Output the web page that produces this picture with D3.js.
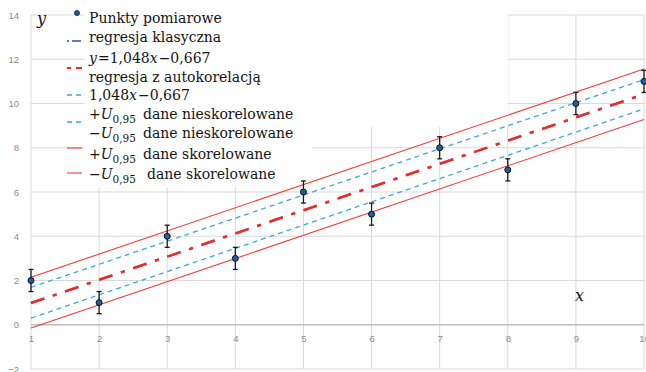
<!DOCTYPE html>
<html>
<head>
<meta charset="utf-8">
<script src="https://cdn.jsdelivr.net/npm/d3@7"></script>
<style>
	body { margin: 0; background: #fff; }
	svg { display: block; }
</style>
</head>
<body>
<svg id="myChart" width="646" height="372"></svg>
<script>
// measured points
const xValues = [1, 2, 3, 4, 5, 6, 7, 8, 9, 10];
const yValues = [2, 1, 4, 3, 6, 5, 8, 7, 10, 11];
const yErrors = [0.5, 0.5, 0.5, 0.5, 0.5, 0.5, 0.5, 0.5, 0.5, 0.5];

// straight lines, values read at x = 1 and x = 10
const lineEnds = [1, 10];
const regClassic = [0.98, 10.42];
const regAuto = [0.98, 10.42];
const uncorrUpper = [1.69, 11.08];
const uncorrLower = [0.30, 9.76];
const corrUpper = [2.15, 11.56];
const corrLower = [-0.15, 9.28];

// ticks
const xTicks = [1, 2, 3, 4, 5, 6, 7, 8, 9, 10];
const yTicks = [-2, 0, 2, 4, 6, 8, 10, 12, 14];

const svg = d3.select('#myChart');
const x = d3.scaleLinear().domain([1, 10]).range([31, 644]);
const y = d3.scaleLinear().domain([-2, 14]).range([369, 15]);

function pairs(ys) {
	return lineEnds.map(function (v, i) { return [v, ys[i]]; });
}

function plotGrid() {
	let grid = svg.append('g');
	grid.selectAll('.hgrid')
		.data(yTicks)
		.enter().append('line')
		.attr('x1', x(1)).attr('x2', x(10))
		.attr('y1', d => y(d)).attr('y2', d => y(d))
		.attr('stroke', '#d9d9d9')
		.attr('stroke-width', 1);
	grid.selectAll('.vgrid')
		.data(xTicks)
		.enter().append('line')
		.attr('x1', d => x(d)).attr('x2', d => x(d))
		.attr('y1', y(14)).attr('y2', y(-2))
		.attr('stroke', '#d9d9d9')
		.attr('stroke-width', 1);

	// axis through y = 0
	svg.append('line')
		.attr('x1', x(1)).attr('x2', x(10))
		.attr('y1', y(0)).attr('y2', y(0))
		.attr('stroke', '#bfbfbf')
		.attr('stroke-width', 1.5);

	let yAxis = svg.append('g')
		.attr('transform', 'translate(' + (x(1) - 9) + ',0)')
		.call(d3.axisLeft(y).tickValues(yTicks).tickSize(0).tickFormat(d3.format('d')));
	yAxis.select('.domain').remove();
	yAxis.selectAll('text')
		.attr('fill', '#8c8c8c')
		.style('font-family', 'Liberation Sans, sans-serif')
		.style('font-size', '9.5px');

	let xAxis = svg.append('g')
		.attr('transform', 'translate(0,' + (y(0) + 8) + ')')
		.call(d3.axisBottom(x).tickValues(xTicks).tickSize(0).tickFormat(d3.format('d')));
	xAxis.select('.domain').remove();
	xAxis.selectAll('text')
		.attr('fill', '#8c8c8c')
		.style('font-family', 'Liberation Sans, sans-serif')
		.style('font-size', '9.5px');
}

function plotLegendBoxes() {
	// white text boxes of the legend hide the grid behind them
	svg.append('rect').attr('x', 84).attr('y', 14).attr('width', 424).attr('height', 113).attr('fill', '#fff');
	svg.append('rect').attr('x', 84).attr('y', 14).attr('width', 228).attr('height', 173).attr('fill', '#fff');
}

function plotLines() {
	let line = d3.line().x(d => x(d[0])).y(d => y(d[1]));

	let series = [
		{ data: regClassic, color: '#2f5597', width: 2, dash: '14,9,4,9' },
		{ data: regAuto, color: '#ee2b2b', width: 2.6, dash: '14,9,4,9' },
		{ data: uncorrUpper, color: '#3ba6e0', width: 1.3, dash: '5,4' },
		{ data: uncorrLower, color: '#3ba6e0', width: 1.3, dash: '5,4' },
		{ data: corrUpper, color: '#f23b3b', width: 1.1, dash: null },
		{ data: corrLower, color: '#f23b3b', width: 1.1, dash: null }
	];

	svg.selectAll('.fit')
		.data(series)
		.enter().append('path')
		.attr('class', 'fit')
		.attr('d', d => line(pairs(d.data)))
		.attr('fill', 'none')
		.attr('stroke', d => d.color)
		.attr('stroke-width', d => d.width)
		.attr('stroke-dasharray', d => d.dash);
}

function plotPoints() {
	let pts = xValues.map(function (v, i) { return { x: v, y: yValues[i], e: yErrors[i] }; });

	let bars = svg.selectAll('.err')
		.data(pts)
		.enter().append('g')
		.attr('class', 'err')
		.attr('stroke', '#1a1a1a')
		.attr('stroke-width', 1.3);
	bars.append('line')
		.attr('x1', d => x(d.x)).attr('x2', d => x(d.x))
		.attr('y1', d => y(d.y + d.e)).attr('y2', d => y(d.y - d.e));
	bars.append('line')
		.attr('x1', d => x(d.x) - 2.5).attr('x2', d => x(d.x) + 2.5)
		.attr('y1', d => y(d.y + d.e)).attr('y2', d => y(d.y + d.e));
	bars.append('line')
		.attr('x1', d => x(d.x) - 2.5).attr('x2', d => x(d.x) + 2.5)
		.attr('y1', d => y(d.y - d.e)).attr('y2', d => y(d.y - d.e));

	svg.selectAll('.pt')
		.data(pts)
		.enter().append('circle')
		.attr('class', 'pt')
		.attr('cx', d => x(d.x))
		.attr('cy', d => y(d.y))
		.attr('r', 3)
		.attr('fill', '#1f5fa0')
		.attr('stroke', '#111')
		.attr('stroke-width', 1);
}

function plotLegend() {
	let font = 'DejaVu Serif, serif';
	let fs = 14;

	// symbols
	svg.append('circle').attr('cx', 77).attr('cy', 13).attr('r', 2.5)
		.attr('fill', '#1f5fa0').attr('stroke', '#111').attr('stroke-width', 0.8);
	let syms = [
		{ y: 41, color: '#2f5597', width: 1.5, dash: '2,3,9,20' },
		{ y: 68, color: '#ee2b2b', width: 2.2, dash: '4,5,8,20' },
		{ y: 95, color: '#3ba6e0', width: 1.3, dash: '5,4' },
		{ y: 122, color: '#3ba6e0', width: 1.3, dash: '5,4' },
		{ y: 148, color: '#f23b3b', width: 1.1, dash: null },
		{ y: 173, color: '#f23b3b', width: 1.1, dash: null }
	];
	svg.selectAll('.sym')
		.data(syms)
		.enter().append('line')
		.attr('class', 'sym')
		.attr('x1', 67).attr('x2', 82)
		.attr('y1', d => d.y).attr('y2', d => d.y)
		.attr('stroke', d => d.color)
		.attr('stroke-width', d => d.width)
		.attr('stroke-dasharray', d => d.dash);

	let t = svg.append('g')
		.style('font-family', font)
		.style('font-size', fs + 'px')
		.attr('fill', '#141414');

	t.append('text').attr('x', 89).attr('y', 22.7).text('Punkty pomiarowe');
	t.append('text').attr('x', 89).attr('y', 41.7).text('regresja klasyczna');

	let eq1 = t.append('text').attr('x', 89).attr('y', 62.7);
	eq1.append('tspan').style('font-style', 'italic').text('y');
	eq1.append('tspan').attr('dx', 1).text('=1,048');
	eq1.append('tspan').style('font-style', 'italic').text('x');
	eq1.append('tspan').attr('dx', 1).text('\u22120,667');

	t.append('text').attr('x', 89).attr('y', 81.7).text('regresja z autokorelacją');

	let eq2 = t.append('text').attr('x', 89).attr('y', 100);
	eq2.append('tspan').text('1,048');
	eq2.append('tspan').style('font-style', 'italic').text('x');
	eq2.append('tspan').attr('dx', 1).text('\u22120,667');

	let uRows = [
		{ y: 119, sign: '+', label: 'dane nieskorelowane', gap: 0 },
		{ y: 138.3, sign: '\u2212', label: 'dane nieskorelowane', gap: 0 },
		{ y: 159.3, sign: '+', label: 'dane skorelowane', gap: 0 },
		{ y: 179.3, sign: '\u2212', label: 'dane skorelowane', gap: 4 }
	];
	uRows.forEach(function (r) {
		let row = t.append('text').attr('x', 89).attr('y', r.y);
		row.append('tspan').text(r.sign);
		row.append('tspan').style('font-style', 'italic').text('U');
		row.append('tspan').attr('dy', 4).style('font-size', '10.5px').text('0,95');
		row.append('tspan').attr('dy', -4).attr('dx', 7 + r.gap).text(r.label);
	});

	// axis names
	svg.append('text').attr('x', 37).attr('y', 24)
		.style('font-family', font).style('font-style', 'italic').style('font-size', '16px')
		.attr('fill', '#141414').text('y');
	svg.append('text').attr('x', 575).attr('y', 301)
		.style('font-family', font).style('font-style', 'italic').style('font-size', '16px')
		.attr('fill', '#141414').text('x');
}

function init() {
	plotGrid();
	plotLegendBoxes();
	plotLines();
	plotPoints();
	plotLegend();
}

init();
</script>
</body>
</html>
